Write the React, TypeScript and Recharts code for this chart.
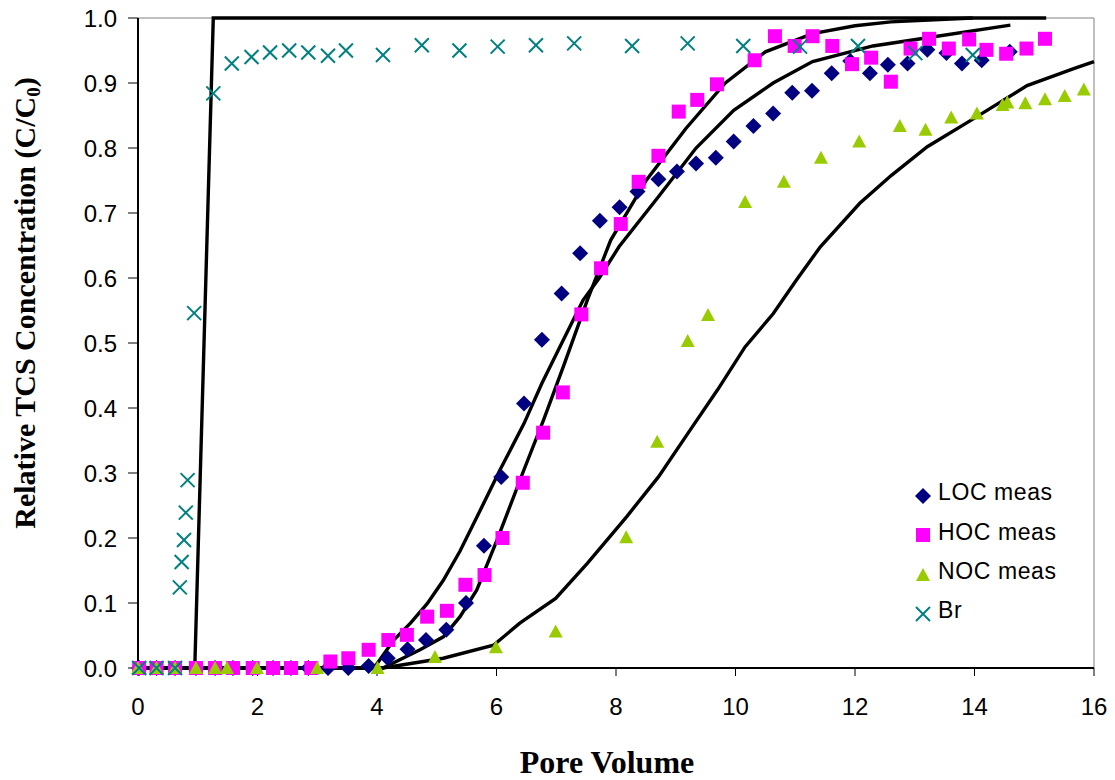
import React from 'react';
import { ScatterChart, Scatter, XAxis, YAxis, ReferenceLine, Label } from 'recharts';

type P = [number, number];

const xTicks = [0, 2, 4, 6, 8, 10, 12, 14, 16];
const yTicks = [0, 0.1, 0.2, 0.3, 0.4, 0.5, 0.6, 0.7, 0.8, 0.9, 1.0];

const locMeas: P[] = [
  [0.02, 0], [0.31, 0], [0.62, 0], [0.97, 0], [1.29, 0], [1.59, 0], [1.92, 0], [2.26, 0], [2.56, 0],
  [2.85, 0], [3.18, 0], [3.52, 0], [3.86, 0.003], [4.18, 0.015], [4.51, 0.029], [4.82, 0.043],
  [5.16, 0.059], [5.49, 0.1], [5.79, 0.188], [6.08, 0.294], [6.46, 0.407], [6.76, 0.505],
  [7.09, 0.576], [7.4, 0.638], [7.73, 0.688], [8.06, 0.709], [8.36, 0.733], [8.71, 0.752],
  [9.02, 0.764], [9.34, 0.776], [9.67, 0.785], [9.97, 0.81], [10.3, 0.834], [10.63, 0.853],
  [10.95, 0.885], [11.28, 0.888], [11.61, 0.915], [11.92, 0.934], [12.25, 0.915], [12.55, 0.928],
  [12.88, 0.93], [13.21, 0.951], [13.53, 0.946], [13.79, 0.93], [14.12, 0.935], [14.59, 0.948],
];

const hocMeas: P[] = [
  [0.02, 0], [0.31, 0], [0.62, 0], [0.97, 0], [1.29, 0], [1.59, 0], [1.92, 0], [2.26, 0], [2.56, 0],
  [2.9, 0], [3.22, 0.01], [3.52, 0.015], [3.86, 0.028], [4.19, 0.043], [4.5, 0.051], [4.84, 0.079],
  [5.17, 0.088], [5.48, 0.128], [5.8, 0.143], [6.1, 0.2], [6.44, 0.285], [6.78, 0.362], [7.11, 0.424],
  [7.42, 0.544], [7.75, 0.615], [8.08, 0.683], [8.38, 0.748], [8.71, 0.788], [9.05, 0.856],
  [9.36, 0.874], [9.69, 0.898], [10.32, 0.935], [10.66, 0.972], [10.99, 0.957], [11.29, 0.972],
  [11.62, 0.957], [11.95, 0.929], [12.27, 0.939], [12.6, 0.902], [12.93, 0.953], [13.24, 0.968],
  [13.57, 0.953], [13.91, 0.967], [14.2, 0.951], [14.53, 0.945], [14.87, 0.953], [15.18, 0.968],
];

const nocMeas: P[] = [
  [0.0, 0], [0.31, 0], [0.62, 0], [0.97, 0], [1.29, 0], [1.49, 0], [1.99, 0], [3.0, 0], [4.01, 0],
  [4.97, 0.017], [5.99, 0.032], [6.99, 0.056], [8.17, 0.201], [8.69, 0.348], [9.2, 0.503],
  [9.54, 0.543], [10.16, 0.717], [10.81, 0.748], [11.43, 0.785], [12.07, 0.81], [12.75, 0.834],
  [13.18, 0.828], [13.61, 0.847], [14.04, 0.853], [14.47, 0.866], [14.55, 0.87], [14.85, 0.869],
  [15.18, 0.875], [15.51, 0.88], [15.83, 0.89],
];

const brMeas: P[] = [
  [0.02, 0], [0.31, 0], [0.62, 0], [0.7, 0.124], [0.73, 0.163], [0.77, 0.197], [0.8, 0.239],
  [0.83, 0.289], [0.94, 0.546], [1.26, 0.884], [1.57, 0.93], [1.9, 0.94], [2.21, 0.947],
  [2.53, 0.95], [2.85, 0.947], [3.18, 0.942], [3.48, 0.95], [4.1, 0.943], [4.75, 0.958],
  [5.38, 0.95], [6.02, 0.956], [6.66, 0.958], [7.3, 0.961], [8.27, 0.957], [9.2, 0.961],
  [10.13, 0.957], [11.08, 0.956], [12.05, 0.957], [13.01, 0.946], [13.97, 0.943],
];

const brModel: P[] = [[0, 0], [0.95, 0], [1.26, 1.0], [15.2, 1.0]];

const locModel: P[] = [
  [0, 0], [3.95, 0], [4.28, 0.043], [4.56, 0.069], [4.84, 0.099], [5.11, 0.135], [5.39, 0.18],
  [5.73, 0.243], [6.06, 0.305], [6.46, 0.376], [6.76, 0.438], [7.12, 0.505], [7.45, 0.566],
  [7.72, 0.6], [8.05, 0.648], [8.71, 0.725], [9.34, 0.8], [9.97, 0.858], [10.63, 0.9],
  [11.29, 0.933], [12.3, 0.957], [13.1, 0.968], [14.6, 0.989],
];

const hocModel: P[] = [
  [0, 0], [4.1, 0], [4.72, 0.028], [5.11, 0.048], [5.39, 0.079], [5.67, 0.12], [6.01, 0.197],
  [6.46, 0.305], [6.79, 0.382], [7.12, 0.464], [7.52, 0.566], [7.91, 0.658], [8.51, 0.751],
  [9.17, 0.83], [9.83, 0.9], [10.5, 0.948], [11.29, 0.976], [12.0, 0.988], [12.6, 0.994],
  [13.97, 1.0],
];

const nocModel: P[] = [
  [0, 0], [4.1, 0], [5.11, 0.015], [5.95, 0.035], [6.39, 0.069], [6.99, 0.107], [7.52, 0.161],
  [8.18, 0.233], [8.71, 0.294], [9.24, 0.366], [9.7, 0.428], [10.16, 0.494], [10.63, 0.545],
  [11.02, 0.597], [11.42, 0.648], [12.08, 0.715], [12.61, 0.758], [13.21, 0.802], [14.0, 0.846],
  [14.88, 0.896], [15.66, 0.922], [16.0, 0.933],
];

const legendItems = ['LOC meas', 'HOC meas', 'NOC meas', 'Br'];

const toObj = (arr: P[]) => arr.map(([x, y]) => ({ x, y }));

const NAVY = '#000080';
const MAGENTA = '#FF00FF';
const GREEN = '#99CC00';
const TEAL = '#008080';

const Diamond = (p: any) => {
  const { cx, cy } = p;
  if (cx == null || cy == null) return <g />;
  return <path d={`M${cx},${cy - 8}L${cx + 8},${cy}L${cx},${cy + 8}L${cx - 8},${cy}Z`} fill={NAVY} />;
};
const Square = (p: any) => {
  const { cx, cy } = p;
  if (cx == null || cy == null) return <g />;
  return <rect x={cx - 7} y={cy - 7} width={14} height={14} fill={MAGENTA} />;
};
const Triangle = (p: any) => {
  const { cx, cy } = p;
  if (cx == null || cy == null) return <g />;
  return <path d={`M${cx},${cy - 7}L${cx + 7},${cy + 6}L${cx - 7},${cy + 6}Z`} fill={GREEN} />;
};
const Cross = (p: any) => {
  const { cx, cy } = p;
  if (cx == null || cy == null) return <g />;
  return (
    <path d={`M${cx - 7},${cy - 7}L${cx + 7},${cy + 7}M${cx + 7},${cy - 7}L${cx - 7},${cy + 7}`}
      stroke={TEAL} strokeWidth={2} fill="none" />
  );
};
const NoShape = () => <g />;

const XTick = (p: any) => (
  <text x={p.x} y={p.y} dy={17} textAnchor="middle" fontFamily="'Liberation Sans', Arial, sans-serif"
    fontSize={24} fill="#000">{p.payload.value}</text>
);
const YTick = (p: any) => (
  <text x={p.x} y={p.y} dy={8.5} textAnchor="end" fontFamily="'Liberation Sans', Arial, sans-serif"
    fontSize={24} fill="#000">{Number(p.payload.value).toFixed(1)}</text>
);

const legendIcons = [
  <svg width={18} height={18}><path d="M9,1L17,9L9,17L1,9Z" fill={NAVY} /></svg>,
  <svg width={18} height={18}><rect x={2} y={2} width={14} height={14} fill={MAGENTA} /></svg>,
  <svg width={18} height={18}><path d="M9,3L16,16L2,16Z" fill={GREEN} /></svg>,
  <svg width={18} height={18}><path d="M2,2L16,16M16,2L2,16" stroke={TEAL} strokeWidth={2} /></svg>,
];

const LegendBox = () => (
  <div style={{ position: 'absolute', left: 914, top: 473, width: 180,
    fontFamily: "'Liberation Sans', Arial, sans-serif", fontSize: 23, color: '#000' }}>
    {legendItems.map((name, i) => (
      <div key={name} style={{ height: 39.4, display: 'flex', alignItems: 'center' }}>
        <span style={{ width: 18, height: 18, display: 'inline-block' }}>{legendIcons[i]}</span>
        <span style={{ marginLeft: 6, letterSpacing: 0.6, lineHeight: 1 }}>{name}</span>
      </div>
    ))}
  </div>
);

const lineStyle = { stroke: '#000', strokeWidth: 3.4 };

export default function App() {
  return (
    <div style={{ position: 'absolute', left: 0, top: 0, width: 1115, height: 780, background: '#fff' }}>
      <ScatterChart width={1115} height={780} margin={{ top: 18, right: 21, bottom: 52, left: 0 }}>
        <XAxis type="number" dataKey="x" domain={[0, 16]} ticks={xTicks}
          tick={<XTick />} tickSize={8} tickMargin={22} height={60}
          axisLine={{ stroke: '#000', strokeWidth: 2 }} tickLine={{ stroke: '#000', strokeWidth: 1 }}>
          <Label content={() => (
            <text x={607} y={773} textAnchor="middle" fontFamily="'Liberation Serif', 'Times New Roman', serif"
              fontWeight="bold" fontSize={32} fill="#000">Pore Volume</text>
          )} />
        </XAxis>
        <YAxis type="number" dataKey="y" domain={[0, 1]} ticks={yTicks}
          tick={<YTick />} tickSize={10} tickMargin={11} width={138}
          axisLine={{ stroke: '#000', strokeWidth: 2 }} tickLine={{ stroke: '#000', strokeWidth: 1 }}>
          <Label content={() => (
            <text x={35} y={303} transform="rotate(-90, 35, 303)" textAnchor="middle"
              fontFamily="'Liberation Serif', 'Times New Roman', serif" fontWeight="bold" fontSize={30} fill="#000">
              Relative TCS Concentration (C/C<tspan fontSize={19} dy={5}>0</tspan><tspan dy={-5}>)</tspan>
            </text>
          )} />
        </YAxis>
        <ReferenceLine y={1} stroke="#808080" strokeWidth={1} />
        <ReferenceLine x={16} stroke="#808080" strokeWidth={1} />

        <Scatter data={toObj(brModel)} line={lineStyle} lineType="joint" shape={<NoShape />} isAnimationActive={false} legendType="none" />
        <Scatter data={toObj(locModel)} line={lineStyle} lineType="joint" shape={<NoShape />} isAnimationActive={false} legendType="none" />
        <Scatter data={toObj(hocModel)} line={lineStyle} lineType="joint" shape={<NoShape />} isAnimationActive={false} legendType="none" />
        <Scatter data={toObj(nocModel)} line={lineStyle} lineType="joint" shape={<NoShape />} isAnimationActive={false} legendType="none" />

        <Scatter name="LOC meas" data={toObj(locMeas)} shape={<Diamond />} isAnimationActive={false} />
        <Scatter name="HOC meas" data={toObj(hocMeas)} shape={<Square />} isAnimationActive={false} />
        <Scatter name="NOC meas" data={toObj(nocMeas)} shape={<Triangle />} isAnimationActive={false} />
        <Scatter name="Br" data={toObj(brMeas)} shape={<Cross />} isAnimationActive={false} />
      </ScatterChart>
      <LegendBox />
    </div>
  );
}
